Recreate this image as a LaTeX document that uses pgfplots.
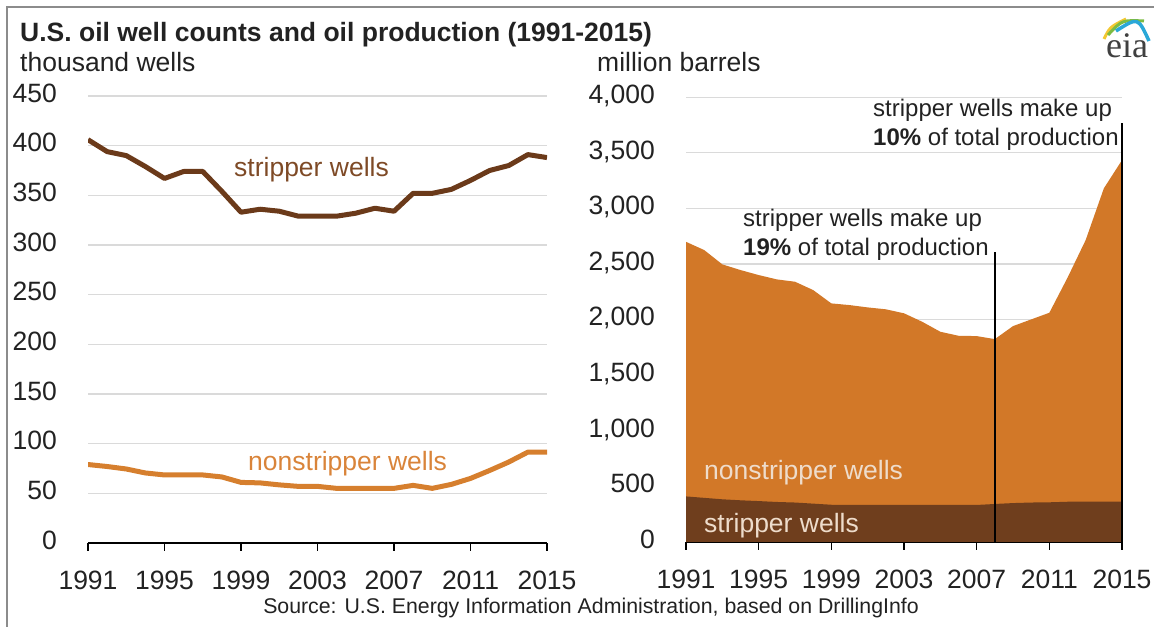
\documentclass[border=0pt]{standalone}
\usepackage{pgfplots}
\pgfplotsset{compat=1.18}
\usepackage{fontspec}
\setmainfont{Liberation Sans}
\newfontfamily\seriffont{Liberation Serif}
\definecolor{brownL}{HTML}{6B3A1A}
\definecolor{brownT}{HTML}{7E4A26}
\definecolor{orangeL}{HTML}{D67F2E}
\definecolor{orangeT}{HTML}{D9843A}
\definecolor{orangeA}{HTML}{D27828}
\definecolor{brownA}{HTML}{6F3E1D}
\definecolor{gridc}{HTML}{DADADA}
\definecolor{lightT}{HTML}{EEDCCB}
\definecolor{txt}{HTML}{222222}
\newcommand{\ts}{\fontsize{26.5bp}{30bp}\selectfont}
\newcommand{\as}{\fontsize{24bp}{28bp}\selectfont}

\pgfplotsset{
  eiastyle/.style={
    scale only axis,
    xmin=1991, xmax=2015, ymin=0,
    axis x line=bottom, axis y line=left,
    axis line style={-},
    y axis line style={draw=none},
    x axis line style={black, line width=1.6bp},
    xtick={1991,1995,1999,2003,2007,2011,2015},
    xticklabels={1991,1995,1999,2003,2007,2011,2015},
    tick align=outside,
    major tick length=8bp,
    xtick style={black, line width=1.4bp},
    ytick style={draw=none},
    ymajorgrids,
    grid style={gridc, line width=1.2bp},
    tick label style={font=\ts, text=txt, text depth=0pt, inner sep=0pt},
    xticklabel style={anchor=north, yshift=-20bp},
    yticklabel style={anchor=east, xshift=-23bp, yshift=3bp},
  }
}

\begin{document}
\begin{tikzpicture}[x=1bp,y=1bp]
\useasboundingbox (0,0) rectangle (1154,627);
\draw[black!45, line width=1.5bp] (7,0) -- (7,620) -- (1154,620);

% left chart
\begin{axis}[eiastyle,
  at={(88bp,84bp)}, anchor=south west,
  width=459bp, height=447bp,
  ymax=450, ytick={0,50,...,450},
  yticklabels={0,50,100,150,200,250,300,350,400,450},
]
\addplot[brownL, line width=5bp, line join=round] coordinates {
(1991,406) (1992,394) (1993,390) (1994,379) (1995,367) (1996,374) (1997,374)
(1998,354) (1999,333) (2000,336) (2001,334) (2002,329) (2003,329) (2004,329)
(2005,332) (2006,337) (2007,334) (2008,352) (2009,352) (2010,356) (2011,365)
(2012,375) (2013,380) (2014,391) (2015,388)};
\addplot[orangeL, line width=5bp, line join=round] coordinates {
(1991,79) (1992,77) (1993,74.5) (1994,70.5) (1995,68.5) (1996,68.5) (1997,68.5)
(1998,66.5) (1999,61) (2000,60.5) (2001,58.5) (2002,57) (2003,57) (2004,55)
(2005,55) (2006,55) (2007,55) (2008,58) (2009,55) (2010,59) (2011,65)
(2012,73) (2013,81.5) (2014,91.5) (2015,91.5)};
\end{axis}

% right chart
\begin{axis}[eiastyle,
  at={(686bp,85bp)}, anchor=south west,
  width=436bp, height=444.7bp,
  ymax=4000, ytick={0,500,...,4000},
  yticklabels={0,500,{1,000},{1,500},{2,000},{2,500},{3,000},{3,500},{4,000}},
  clip=false,
]
\addplot[fill=orangeA, draw=none] coordinates {
(1991,2700) (1992,2626) (1993,2497) (1994,2446) (1995,2401) (1996,2362) (1997,2341)
(1998,2266) (1999,2146) (2000,2131) (2001,2110) (2002,2093) (2003,2057) (2004,1981)
(2005,1891) (2006,1855) (2007,1852) (2008,1825) (2009,1942) (2010,2002) (2011,2062)
(2012,2377) (2013,2716) (2014,3181) (2015,3435)} \closedcycle;
\addplot[fill=brownA, draw=none] coordinates {
(1991,410) (1992,397) (1993,384) (1994,375) (1995,368) (1996,360) (1997,355)
(1998,345) (1999,335) (2000,333) (2001,333) (2002,333) (2003,333) (2004,333)
(2005,333) (2006,333) (2007,333) (2008,342) (2009,350) (2010,355) (2011,357)
(2012,362) (2013,362) (2014,362) (2015,362)} \closedcycle;
\addplot[black, line width=1.5bp] coordinates {(2008,0) (2008,2611)};
\addplot[black, line width=1.5bp] coordinates {(2015,0) (2015,3768)};
\end{axis}

% titles
\node[anchor=base west, inner sep=0pt, font=\ts\bfseries, text=txt] at (20,585) {U.S. oil well counts and oil production (1991-2015)};
\node[anchor=base west, inner sep=0pt, font=\ts, text=txt] at (20,555) {thousand wells};
\node[anchor=base west, inner sep=0pt, font=\ts, text=txt] at (597,555) {million barrels};
\node[anchor=base, inner sep=0pt, font=\fontsize{21.3bp}{24bp}\selectfont, text=txt] at (591,13) {Source: U.S. Energy Information Administration, based on DrillingInfo};

% annotations
\node[anchor=base west, inner sep=0pt, font=\as, text=txt] at (743,400) {stripper wells make up};
\node[anchor=base west, inner sep=0pt, font=\as, text=txt] at (743,371) {\textbf{19\%} of total production};
\node[anchor=base west, inner sep=0pt, font=\as, text=txt] at (873,510) {stripper wells make up};
\node[anchor=base west, inner sep=0pt, font=\as, text=txt] at (873,481) {\textbf{10\%} of total production};

% series labels
\node[anchor=base west, inner sep=0pt, font=\ts, text=brownT] at (234,450) {stripper wells};
\node[anchor=base west, inner sep=0pt, font=\ts, text=orangeT] at (248,156) {nonstripper wells};
\node[anchor=base west, inner sep=0pt, font=\ts, text=lightT] at (704,147) {nonstripper wells};
\node[anchor=base west, inner sep=0pt, font=\ts, text=lightT] at (704,94) {stripper wells};

% logo
\draw[line width=3bp, color={rgb,255:red,242;green,200;blue,50}] (1104,588) .. controls (1110,600) .. (1126,608);
\draw[line width=3bp, color={rgb,255:red,125;green,187;blue,66}] (1108,592) .. controls (1122,607) .. (1144,606);
\draw[line width=3.5bp, color={rgb,255:red,42;green,168;blue,216}] (1116,596) .. controls (1138,610) .. (1149,586);
\node[anchor=base, inner sep=0pt, font=\seriffont\fontsize{36bp}{36bp}\selectfont, text=black!75] at (1127,569) {eia};
\end{tikzpicture}
\end{document}
